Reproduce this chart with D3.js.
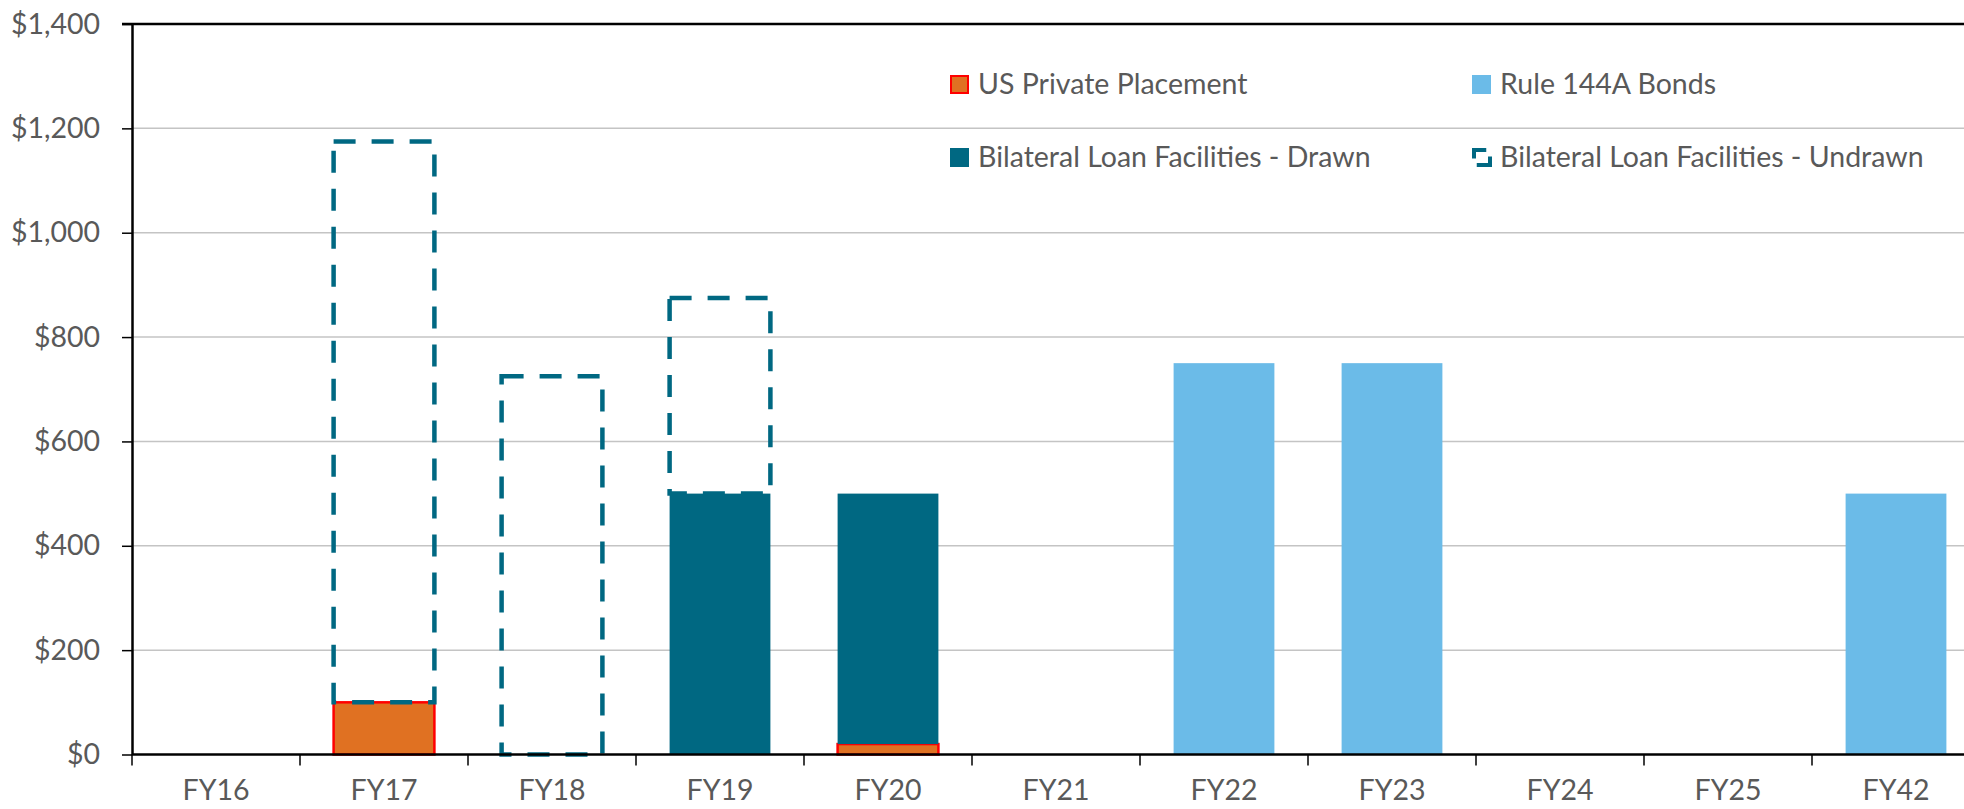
<!DOCTYPE html>
<html>
<head>
<meta charset="utf-8">
<script src="https://cdn.jsdelivr.net/npm/d3@7"></script>
<style>
  body { margin: 0; background: #fff; }
  text { font-family: Lato, "Open Sans", sans-serif; fill: #595959; }
</style>
</head>
<body>
<div id="chart"></div>
<script>
// Chart values.
var categories = ["FY16", "FY17", "FY18", "FY19", "FY20", "FY21", "FY22", "FY23", "FY24", "FY25", "FY42"];
var usPrivatePlacement = [0, 100, 0, 0, 20, 0, 0, 0, 0, 0, 0];
var rule144ABonds = [0, 0, 0, 0, 0, 0, 750, 750, 0, 0, 500];
var bilateralDrawn = [0, 0, 0, 500, 480, 0, 0, 0, 0, 0, 0];
var bilateralUndrawn = [0, 1075, 725, 375, 0, 0, 0, 0, 0, 0, 0];
var yTicks = [0, 200, 400, 600, 800, 1000, 1200, 1400];

var seriesNames = ["US Private Placement", "Rule 144A Bonds",
  "Bilateral Loan Facilities - Drawn", "Bilateral Loan Facilities - Undrawn"];

// Dimensions.
var width = 1964;
var height = 809;
var m = { left: 132, top: 24, bottom: 54 };
var plotRight = 1980; // plot runs a bit past the right edge of the picture
var fontSize = "28.5px";

var colors = {
  usp: "#E07122",
  uspStroke: "#FF0000",
  bonds: "#6BBBE8",
  drawn: "#006882",
  grid: "#C4C4C4"
};

// Build a table the stack layout can use.
var table = categories.map(function(c, i) {
  return {
    cat: c,
    usp: usPrivatePlacement[i],
    bonds: rule144ABonds[i],
    drawn: bilateralDrawn[i],
    undrawn: bilateralUndrawn[i]
  };
});

var stack = d3.stack().keys(["usp", "bonds", "drawn", "undrawn"]);
var layers = stack(table);

var svg = d3.select("#chart").append("svg")
    .attr("width", width)
    .attr("height", height);

var x = d3.scaleBand()
    .domain(categories)
    .range([m.left, plotRight])
    .paddingInner(0.4)
    .paddingOuter(0.2);

var y = d3.scaleLinear()
    .domain([0, 1400])
    .range([height - m.bottom - 0.5, m.top]);

// Horizontal gridlines.
svg.append("g")
  .selectAll("line")
  .data(yTicks.filter(function(d) { return d > 0 && d < 1400; }))
  .enter().append("line")
    .attr("x1", m.left)
    .attr("x2", width)
    .attr("y1", function(d) { return y(d); })
    .attr("y2", function(d) { return y(d); })
    .style("stroke", colors.grid)
    .style("stroke-width", 1.5);

// Solid bars.
function drawLayer(key, fill, stroke, strokeWidth) {
  var layer = layers.filter(function(l) { return l.key === key; })[0];
  svg.append("g")
    .selectAll("rect")
    .data(layer.filter(function(d) { return d[1] - d[0] > 0; }))
    .enter().append("rect")
      .attr("x", function(d) { return x(d.data.cat); })
      .attr("width", x.bandwidth())
      .attr("y", function(d) { return y(d[1]); })
      .attr("height", function(d) { return y(d[0]) - y(d[1]); })
      .style("fill", fill)
      .style("stroke", stroke)
      .style("stroke-width", strokeWidth);
}

drawLayer("usp", colors.usp, colors.uspStroke, 2.5);
drawLayer("bonds", colors.bonds, "none", 0);
drawLayer("drawn", colors.drawn, "none", 0);

// Undrawn facilities: dashed outline only.
var undrawn = layers.filter(function(l) { return l.key === "undrawn"; })[0];
svg.append("g")
  .selectAll("rect")
  .data(undrawn.filter(function(d) { return d[1] - d[0] > 0; }))
  .enter().append("rect")
    .attr("x", function(d) { return x(d.data.cat); })
    .attr("width", x.bandwidth())
    .attr("y", function(d) { return y(d[1]); })
    .attr("height", function(d) { return y(d[0]) - y(d[1]); })
    .style("fill", "none")
    .style("stroke", colors.drawn)
    .style("stroke-width", 4.5)
    .style("stroke-dasharray", "22,16");

// Top border of the plot.
svg.append("line")
    .attr("x1", m.left - 10)
    .attr("x2", width)
    .attr("y1", y(1400))
    .attr("y2", y(1400))
    .style("stroke", "#000")
    .style("stroke-width", 2.5);

// Y axis.
var yAxis = svg.append("g")
    .attr("transform", "translate(" + m.left + ",0)")
    .call(d3.axisLeft(y)
      .tickValues(yTicks)
      .tickSize(10)
      .tickSizeOuter(0)
      .tickPadding(22)
      .tickFormat(function(d) { return "$" + d3.format(",")(d); }));

yAxis.select(".domain").style("stroke", "#000").style("stroke-width", 2.5);
yAxis.selectAll(".tick line").style("stroke", "#000").style("stroke-width", 1.5);
yAxis.selectAll(".tick text")
    .style("font-family", "Lato, sans-serif")
    .style("font-size", fontSize)
    .style("fill", "#595959");

// X axis: labels at band centres, tick marks on band boundaries.
var xAxis = svg.append("g")
    .attr("transform", "translate(0," + y(0) + ")")
    .call(d3.axisBottom(x).tickSize(0).tickPadding(28));

xAxis.select(".domain").remove();
xAxis.selectAll(".tick text")
    .attr("dy", "0.62em")
    .style("font-family", "Lato, sans-serif")
    .style("font-size", fontSize)
    .style("fill", "#595959");

svg.append("line")
    .attr("x1", m.left)
    .attr("x2", width)
    .attr("y1", y(0))
    .attr("y2", y(0))
    .style("stroke", "#000")
    .style("stroke-width", 2.5);

svg.append("g")
  .selectAll("line")
  .data(d3.range(categories.length + 1))
  .enter().append("line")
    .attr("x1", function(i) { return m.left + i * x.step(); })
    .attr("x2", function(i) { return m.left + i * x.step(); })
    .attr("y1", y(0))
    .attr("y2", y(0) + 11)
    .style("stroke", "#000")
    .style("stroke-width", 1.5);

// Legend.
var li = { s: 19, gap: 9, col: [950, 1472], row: [75, 148] };

var legendItems = [
  { name: seriesNames[0], kind: "usp", col: 0, row: 0 },
  { name: seriesNames[1], kind: "bonds", col: 1, row: 0 },
  { name: seriesNames[2], kind: "drawn", col: 0, row: 1 },
  { name: seriesNames[3], kind: "undrawn", col: 1, row: 1 }
];

var lg = svg.append("g").selectAll("g")
    .data(legendItems)
    .enter().append("g")
    .attr("transform", function(d) {
      return "translate(" + li.col[d.col] + "," + li.row[d.row] + ")";
    });

lg.each(function(d) {
  var g = d3.select(this);
  if (d.kind === "undrawn") {
    g.append("path")
      .attr("d", "M2," + (li.s * 0.55) + "V2H" + (li.s * 0.75))
      .style("fill", "none")
      .style("stroke", colors.drawn)
      .style("stroke-width", 4);
    g.append("path")
      .attr("d", "M" + (li.s * 0.25) + "," + (li.s - 2) + "H" + (li.s - 1) + "V" + (li.s * 0.45))
      .style("fill", "none")
      .style("stroke", colors.drawn)
      .style("stroke-width", 4);
  } else {
    g.append("rect")
      .attr("x", d.kind === "usp" ? 1 : 0)
      .attr("y", d.kind === "usp" ? 1 : 0)
      .attr("width", d.kind === "usp" ? li.s - 2 : li.s)
      .attr("height", d.kind === "usp" ? li.s - 2 : li.s)
      .style("fill", colors[d.kind])
      .style("stroke", d.kind === "usp" ? colors.uspStroke : "none")
      .style("stroke-width", 2);
  }
  g.append("text")
    .attr("x", li.s + li.gap)
    .attr("y", li.s)
    .style("font-size", fontSize)
    .text(d.name);
});
</script>
</body>
</html>
